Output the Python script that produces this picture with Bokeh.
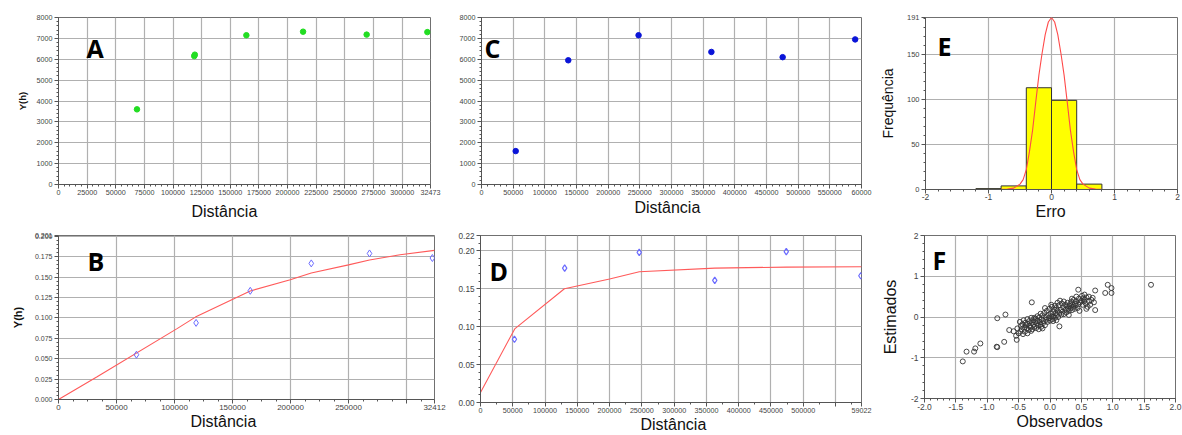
from math import pi
from bokeh.plotting import figure
from bokeh.models import Range1d, FixedTicker, Label, Title
from bokeh.layouts import row, column
from bokeh.embed import file_html
from bokeh.resources import INLINE

# ---------------- data ----------------
# A: experimental semivariogram, first direction
A_dist = [68500, 118500, 119000, 164000, 213500, 269000, 322000]
A_gamma = [3600, 6150, 6220, 7150, 7320, 7180, 7300]
A_xticks = [0, 25000, 50000, 75000, 100000, 125000, 150000, 175000, 200000,
            225000, 250000, 275000, 300000, 324735]
A_xlabels = ["0", "25000", "50000", "75000", "100000", "125000", "150000", "175000",
             "200000", "225000", "250000", "275000", "300000", "32473"]
A_yticks = [0, 1000, 2000, 3000, 4000, 5000, 6000, 7000, 8000]

# C: experimental semivariogram, second direction
C_dist = [54000, 137000, 248000, 363000, 475500, 590000]
C_gamma = [1600, 5950, 7150, 6350, 6100, 6950]
C_xticks = [0, 50000, 100000, 150000, 200000, 250000, 300000, 350000, 400000,
            450000, 500000, 550000, 600000]
C_xlabels = ["0", "50000", "100000", "150000", "200000", "250000", "300000", "350000",
             "400000", "450000", "500000", "550000", "60000"]
C_yticks = [0, 1000, 2000, 3000, 4000, 5000, 6000, 7000, 8000]

# B: standardized semivariogram + fitted model
B_dist = [67200, 118600, 165300, 217900, 268100, 322300]
B_gamma = [0.0549, 0.0939, 0.1332, 0.1668, 0.1790, 0.1734]
B_model_dist = [0, 33300, 102200, 118000, 165300, 199800, 217900, 250000, 268100, 294500, 324125]
B_model_gamma = [0.0, 0.0279, 0.0869, 0.101, 0.133, 0.1467, 0.155, 0.165, 0.171, 0.1775, 0.1828]
B_xticks = [0, 50000, 100000, 150000, 200000, 250000, 300000, 324125]
B_xlabels = ["0", "50000", "100000", "150000", "200000", "250000", "", "32412"]
B_yticks = [0.0, 0.025, 0.05, 0.075, 0.1, 0.125, 0.15, 0.175, 0.2, 0.201]
B_ylabels = ["0.000", "0.025", "0.050", "0.075", "0.100", "0.125", "0.150", "0.175", "0.200", "0.201"]

# D: standardized semivariogram + fitted model
D_dist = [52600, 130400, 245900, 362900, 473700, 589200]
D_gamma = [0.0833, 0.177, 0.1978, 0.1608, 0.1987, 0.167]
D_model_dist = [0, 53000, 130000, 200000, 246000, 363000, 474000, 590220]
D_model_gamma = [0.0132, 0.0969, 0.1498, 0.1626, 0.1722, 0.177, 0.1784, 0.1789]
D_xticks = [0, 50000, 100000, 150000, 200000, 250000, 300000, 350000, 400000,
            450000, 500000, 550000, 590220]
D_xlabels = ["0", "50000", "100000", "150000", "200000", "250000", "300000", "350000",
             "400000", "450000", "500000", "", "59022"]
D_yticks = [0.0, 0.05, 0.1, 0.15, 0.2, 0.22]
D_ylabels = ["0.00", "0.05", "0.10", "0.15", "0.20", "0.22"]

# E: histogram of errors + normal curve
E_left = [-1.2, -0.8, -0.4, 0.0, 0.4]
E_right = [-0.8, -0.4, 0.0, 0.4, 0.8]
E_count = [1, 4, 113, 99, 6]
E_curve_x = [-2, -1, -0.8, -0.7, -0.6, -0.5, -0.45, -0.4, -0.35, -0.3, -0.25, -0.2, -0.15,
             -0.1, -0.05, 0, 0.05, 0.1, 0.15, 0.2, 0.25, 0.3, 0.35, 0.4, 0.45, 0.5, 0.6,
             0.7, 0.8, 1, 2]
E_curve_y = [0, 0, 0.2, 0.4, 1.5, 6, 11, 22, 42, 66, 97, 127, 151, 172, 186, 191, 186, 172,
             151, 127, 97, 66, 42, 22, 11, 6, 1.5, 0.4, 0.2, 0, 0]
E_xticks = [-2, -1, 0, 1, 2]
E_yticks = [0, 50, 100, 150, 191]

# F: observed vs estimated
F_obs = [-1.39, -1.33, -1.21, -1.19, -1.11, -0.84, -0.85, -0.84, -0.71, -0.73, -0.65, -0.58,
         -0.54, -0.53, -0.29, 0.15, 0.45, 0.72, 0.72, 0.88, 0.92, 0.98, 0.98, 1.61,
         -0.48, -0.46, -0.45, -0.44, -0.42, -0.41, -0.40, -0.39, -0.38, -0.37, -0.36, -0.35,
         -0.34, -0.33, -0.32, -0.31, -0.30, -0.29, -0.28, -0.27, -0.26, -0.25, -0.24, -0.23,
         -0.22, -0.21, -0.20, -0.19, -0.18, -0.17, -0.16, -0.15, -0.14, -0.13, -0.12, -0.11,
         -0.10, -0.09, -0.08, -0.07, -0.06, -0.05, -0.04, -0.03, -0.02, -0.01, 0.00, 0.01,
         0.02, 0.03, 0.04, 0.05, 0.06, 0.07, 0.08, 0.09, 0.10, 0.11, 0.12, 0.13, 0.14, 0.15,
         0.16, 0.17, 0.18, 0.19, 0.20, 0.21, 0.22, 0.24, 0.25, 0.26, 0.27, 0.28, 0.29, 0.30,
         0.31, 0.32, 0.33, 0.34, 0.35, 0.36, 0.37, 0.38, 0.39, 0.40, 0.41, 0.42, 0.44, 0.45,
         0.46, 0.48, 0.50, 0.51, 0.52, 0.53, 0.54, 0.55, 0.57, 0.58, 0.60, 0.62, 0.64, 0.66,
         0.68, 0.70, -0.52, -0.50, -0.47, -0.43, -0.36, -0.30, -0.25, -0.20, -0.15, -0.08,
         0.02, -0.12, 0.08, 0.12, 0.22, 0.30, 0.35, 0.42, 0.47, 0.55, 0.58, 0.62, 0.10, 0.05]
F_est = [-1.09, -0.85, -0.85, -0.77, -0.65, -0.74, -0.73, -0.03, 0.06, -0.61, -0.32, -0.35,
         -0.46, -0.56, 0.36, -0.23, 0.67, 0.65, 0.17, 0.59, 0.79, 0.71, 0.59, 0.79,
         -0.12, -0.22, -0.30, -0.18, -0.08, -0.25, -0.36, -0.14, -0.20, -0.28, -0.05, -0.17,
         -0.32, -0.10, -0.22, -0.26, -0.02, -0.15, -0.30, -0.08, -0.19, -0.24, -0.12, -0.04,
         -0.27, -0.16, -0.09, -0.21, -0.30, -0.01, -0.13, -0.19, -0.24, -0.06, 0.04, -0.15,
         -0.10, 0.10, -0.20, 0.00, -0.07, 0.15, -0.12, 0.05, -0.03, 0.20, -0.09, 0.08,
         0.01, 0.25, -0.05, 0.12, 0.02, 0.18, -0.02, 0.09, 0.22, 0.05, 0.15, 0.00, 0.28, 0.10,
         0.40, 0.18, 0.06, 0.33, 0.13, 0.24, 0.07, 0.30, 0.18, 0.11, 0.26, 0.35, 0.20, 0.15,
         0.28, 0.32, 0.22, 0.38, 0.17, 0.30, 0.25, 0.42, 0.20, 0.33, 0.28, 0.38, 0.22, 0.31,
         0.45, 0.36, 0.40, 0.52, 0.30, 0.46, 0.38, 0.42, 0.33, 0.48, 0.25, 0.38, 0.30, 0.42,
         0.47, 0.36, -0.28, -0.40, -0.36, -0.42, -0.40, -0.34, -0.02, 0.02, 0.08, 0.22,
         0.30, -0.28, 0.28, 0.35, 0.38, 0.05, 0.45, 0.50, 0.15, 0.55, 0.20, 0.50, -0.08, -0.10]
F_xticks = [-2.0, -1.5, -1.0, -0.5, 0.0, 0.5, 1.0, 1.5, 2.0]
F_xlabels = ["-2.0", "-1.5", "-1.0", "-0.5", "0.0", "0.5", "1.0", "1.5", "2.0"]
F_yticks = [-2, -1, 0, 1, 2]

# ---------------- layout geometry (page pixels, page origin = layout origin) ----------------
ROW1 = (0, 228)
ROW2 = (228, 433)
COL1, COL2, COL3 = (0, 455), (455, 876), (876, 1182)
GEOM = {
    "A": (58, 16, 430, 183),
    "C": (481, 17, 861, 184),
    "E": (920, 16, 1172, 188),
    "B": (58, 233, 434, 397),
    "D": (478, 232, 859, 399),
    "F": (921, 235, 1172, 398),
}

GRID = "#b0b0b0"
AXIS = "#555555"
TICKFONT = "Liberation Sans"


def make_panel(key, col, rw, xr, yr):
    L, T, R, B = GEOM[key]
    p = figure(x_range=Range1d(*xr), y_range=Range1d(*yr),
               frame_width=R - L, frame_height=B - T,
               min_border_left=L - col[0], min_border_right=col[1] - R,
               min_border_top=T - rw[0], min_border_bottom=rw[1] - B,
               output_backend="svg", toolbar_location=None)
    p.outline_line_color = "#707070"
    p.background_fill_color = "white"
    p.border_fill_color = "white"
    p.grid.grid_line_color = GRID
    p.grid.grid_line_width = 1.2
    for ax in (p.xaxis, p.yaxis):
        ax.axis_line_color = AXIS
        ax.major_tick_line_color = AXIS
        ax.minor_tick_line_color = AXIS
        ax.major_tick_in = 0
        ax.major_tick_out = 4
        ax.minor_tick_in = 0
        ax.minor_tick_out = 2
        ax.major_label_text_font = TICKFONT
        ax.major_label_text_color = "#444444"
    p.xaxis.major_label_standoff = 1
    p.yaxis.major_label_standoff = 2

    def conv(px, py):
        x = xr[0] + (px - L) / (R - L) * (xr[1] - xr[0])
        y = yr[0] + (B - py) / (B - T) * (yr[1] - yr[0])
        return x, y
    return p, conv


def set_ticks(axis, ticks, labels, minor, size):
    axis.ticker = FixedTicker(ticks=ticks, minor_ticks=minor)
    axis.major_label_overrides = {t: l for t, l in zip(ticks, labels)}
    axis.major_label_text_font_size = size


def frange(a, b, s):
    out, v = [], a
    while v <= b + 1e-9:
        out.append(round(v, 6))
        v += s
    return out


def xlabel(p, key, text_left, s, standoff):
    L = GEOM[key][0]
    p.add_layout(Title(text=s, align="left", offset=text_left - L, vertical_align="top",
                       text_font="Liberation Sans", text_font_size="16px",
                       text_font_style="normal", text_color="#111111",
                       standoff=standoff), "below")


def ylabel(p, s, size, bold, standoff):
    p.yaxis.axis_label = s
    p.yaxis.axis_label_text_font = "Liberation Sans"
    p.yaxis.axis_label_text_font_size = size
    p.yaxis.axis_label_text_font_style = "bold" if bold else "normal"
    p.yaxis.axis_label_text_color = "#111111"
    p.yaxis.axis_label_standoff = standoff


def letter(p, conv, px, py, s):
    x, y = conv(px, py)
    p.add_layout(Label(x=x, y=y, text=s, text_font="Open Sans", text_font_size="25px",
                       text_font_style="bold", text_align="left",
                       text_baseline="alphabetic", text_color="#000000"))


# ---------------- Panel A ----------------
pA, cA = make_panel("A", COL1, ROW1, (0, 324735), (0, 8000))
set_ticks(pA.xaxis, A_xticks, A_xlabels, frange(0, 324735, 5000), "7.2px")
set_ticks(pA.yaxis, A_yticks, [str(t) for t in A_yticks], frange(0, 8000, 200), "7.2px")
pA.scatter(A_dist, A_gamma, size=5.5, color="#22dd22")
letter(pA, cA, 86, 46, "A")
xlabel(pA, "A", 191, "Distância", 11)
ylabel(pA, "Y(h)", "9.5px", True, 6)

# ---------------- Panel C ----------------
pC, cC = make_panel("C", COL2, ROW1, (0, 600000), (0, 8000))
set_ticks(pC.xaxis, C_xticks, C_xlabels, frange(0, 600000, 10000), "7.2px")
set_ticks(pC.yaxis, C_yticks, [str(t) for t in C_yticks], frange(0, 8000, 200), "7.2px")
pC.scatter(C_dist, C_gamma, size=5.5, color="#0a14d8")
letter(pC, cC, 484, 47, "C")
xlabel(pC, "C", 634, "Distância", 3)

# ---------------- Panel E ----------------
pE, cE = make_panel("E", COL3, ROW1, (-2, 2), (0, 191))
set_ticks(pE.xaxis, E_xticks, [str(t) for t in E_xticks], frange(-2, 2, 0.2), "8.5px")
set_ticks(pE.yaxis, E_yticks, [str(t) for t in E_yticks], frange(0, 190, 10), "7.5px")
pE.xaxis.major_label_standoff = 0
pE.quad(left=E_left, right=E_right, bottom=0, top=E_count,
        fill_color="#ffff00", line_color="#333333", line_width=1)
pE.line(E_curve_x, E_curve_y, line_color="#ff4a4a", line_width=1.1)
letter(pE, cE, 932, 44, "E")
xlabel(pE, "E", 1030, "Erro", 0)
ylabel(pE, "Frequência", "14px", False, 8)

# ---------------- Panel B ----------------
pB, cB = make_panel("B", COL1, ROW2, (0, 324125), (0, 0.201))
set_ticks(pB.xaxis, B_xticks, B_xlabels, frange(0, 324125, 12500), "8px")
set_ticks(pB.yaxis, B_yticks, B_ylabels, frange(0, 0.2, 0.005), "7px")
pB.line(B_model_dist, B_model_gamma, line_color="#ff5a5a", line_width=1.1)
pB.scatter(B_dist, B_gamma, marker="diamond", size=7, fill_color=None,
           line_color="#6b6bff", line_width=1)
letter(pB, cB, 87, 258, "B")
xlabel(pB, "B", 190, "Distância", 0)
ylabel(pB, "Y(h)", "11px", True, 8)

# ---------------- Panel D ----------------
pD, cD = make_panel("D", COL2, ROW2, (0, 590220), (0, 0.22))
set_ticks(pD.xaxis, D_xticks, D_xlabels, frange(0, 590220, 25000), "7.2px")
set_ticks(pD.yaxis, D_yticks, D_ylabels, frange(0, 0.22, 0.01), "8.2px")
pD.line(D_model_dist, D_model_gamma, line_color="#ff5a5a", line_width=1.1)
pD.scatter(D_dist, D_gamma, marker="diamond", size=6.5, fill_color=None,
           line_color="#6b6bff", line_width=1.2)
letter(pD, cD, 487, 267, "D")
xlabel(pD, "D", 638, "Distância", 0)

# ---------------- Panel F ----------------
pF, cF = make_panel("F", COL3, ROW2, (-2, 2), (-2, 2))
set_ticks(pF.xaxis, F_xticks, F_xlabels, frange(-2, 2, 0.1), "8.5px")
set_ticks(pF.yaxis, F_yticks, [str(t) for t in F_yticks], frange(-2, 2, 0.2), "8.5px")
pF.scatter(F_obs, F_est, size=5, fill_color=None, line_color="#333333", line_width=0.9)
letter(pF, cF, 929, 259, "F")
xlabel(pF, "F", 1013, "Observados", 0)
ylabel(pF, "Estimados", "16px", False, 9)

layout = column(row(pA, pC, pE), row(pB, pD, pF))
open("out.html", "w").write(file_html(layout, INLINE))
